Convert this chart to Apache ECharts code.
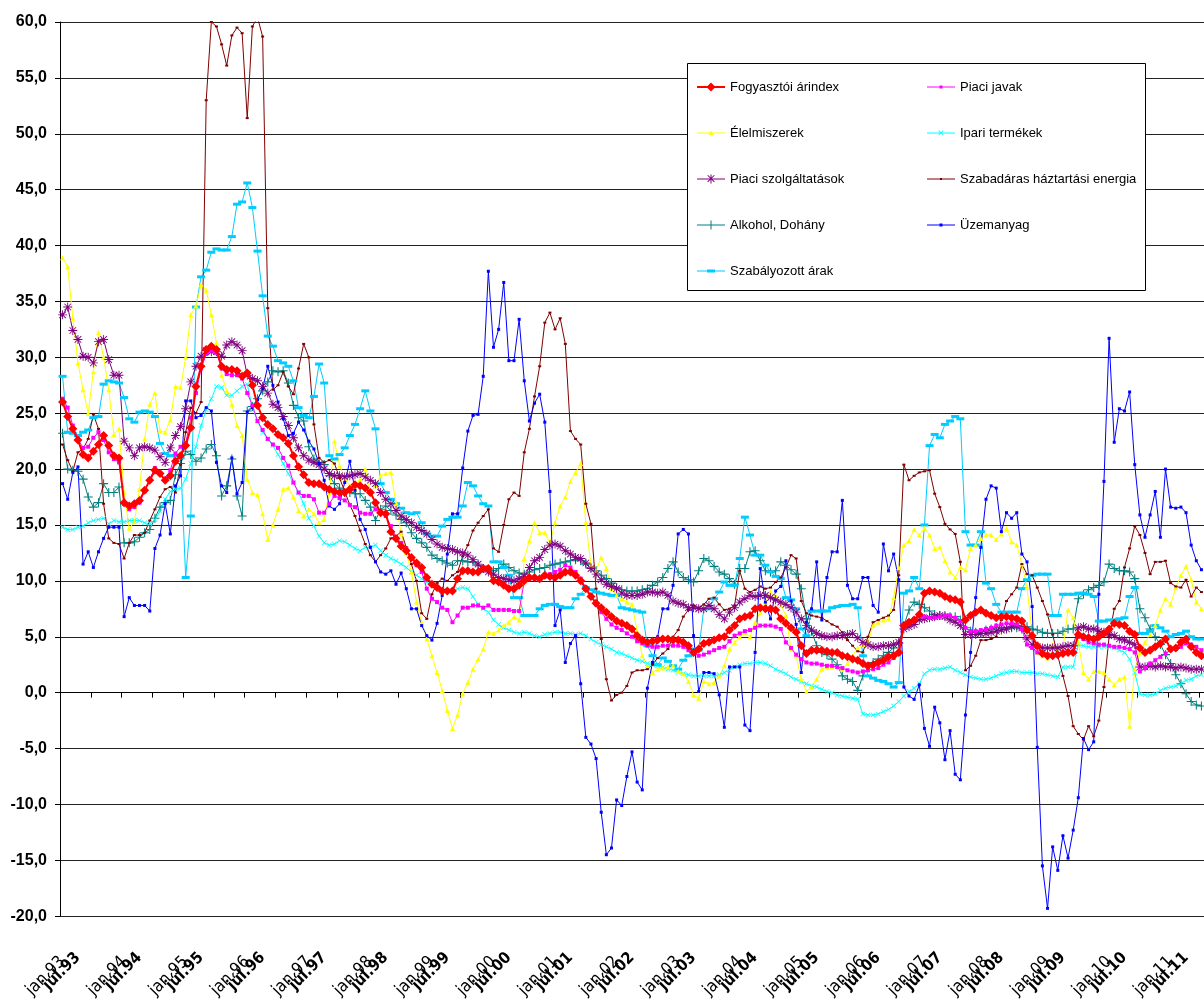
<!DOCTYPE html>
<html>
<head>
<meta charset="utf-8">
<script src="https://cdn.jsdelivr.net/npm/echarts@6/dist/echarts.min.js"></script>
<style>
  html, body { margin: 0; padding: 0; background: #fff; }
  #main { width: 1204px; height: 1001px; }
</style>
</head>
<body>
<div id="main"></div>
<script>
// categories: monthly, jan.93 .. júl.11
const years = ['93','94','95','96','97','98','99','00','01','02','03','04','05','06','07','08','09','10','11'];
const monthNames = ['jan','febr','márc','ápr','máj','jún','júl','aug','szept','okt','nov','dec'];
const lastMonthIndex = 6; // data runs to júl.11

// one row per year, jan..dec
const fogyasztoiArindex = [
  26.0, 24.7, 23.6, 22.6, 21.3, 21.0, 21.6, 22.2, 23.0, 22.1, 21.2, 21.0,
  17.0, 16.7, 16.9, 17.2, 18.1, 19.0, 19.9, 19.6, 19.0, 19.4, 20.7, 21.2,
  22.1, 23.7, 27.4, 29.2, 30.7, 31.0, 30.7, 29.2, 28.9, 28.9, 28.8, 28.3,
  28.6, 27.5, 25.7, 24.6, 24.0, 23.6, 23.1, 22.8, 22.3, 21.2, 20.2, 19.5,
  18.8, 18.7, 18.7, 18.4, 18.2, 18.0, 17.9, 17.9, 18.2, 18.6, 18.5, 18.3,
  17.9, 17.0, 16.1, 16.0, 14.4, 13.8, 13.1, 12.7, 12.1, 11.6, 11.2, 10.3,
  9.7, 9.4, 9.1, 9.1, 9.1, 10.2, 10.9, 10.9, 10.8, 10.8, 11.1, 11.1,
  10.0, 9.9, 9.6, 9.3, 9.3, 9.6, 10.0, 10.3, 10.3, 10.2, 10.5, 10.4,
  10.3, 10.5, 10.8, 10.8, 10.5, 10.0, 9.3, 8.6, 8.0, 7.6, 7.2, 6.8,
  6.4, 6.2, 6.0, 5.7, 5.1, 4.7, 4.5, 4.6, 4.7, 4.8, 4.8, 4.7,
  4.7, 4.5, 4.2, 3.6, 3.9, 4.4, 4.5, 4.7, 4.9, 5.0, 5.6, 6.0,
  6.6, 6.8, 6.9, 7.5, 7.6, 7.5, 7.5, 7.4, 6.6, 6.2, 5.8, 5.4,
  4.2, 3.5, 3.8, 3.8, 3.8, 3.7, 3.6, 3.6, 3.3, 3.2, 3.0, 2.9,
  2.6, 2.4, 2.5, 2.7, 2.9, 3.2, 3.3, 3.6, 6.0, 6.3, 6.5, 7.0,
  8.9, 9.1, 9.0, 8.9, 8.6, 8.4, 8.3, 8.1, 6.5, 6.9, 7.2, 7.4,
  7.1, 6.9, 6.7, 6.8, 6.8, 6.7, 6.6, 6.4, 5.6, 5.1, 4.2, 3.5,
  3.3, 3.3, 3.4, 3.5, 3.6, 3.6, 5.2, 5.0, 4.9, 4.8, 5.0, 5.3,
  5.7, 6.2, 6.1, 6.0, 5.5, 5.2, 4.0, 3.6, 3.8, 4.1, 4.4, 4.8,
  3.9, 4.0, 4.5, 4.8, 4.1, 3.6, 3.3
];
const piaciJavak = [
  26.3, 25.5, 23.9, 22.7, 21.9, 22.0, 22.8, 23.3, 22.6, 21.5, 20.9, 20.6,
  16.9, 16.4, 16.6, 17.0, 18.0, 19.1, 20.1, 19.6, 19.1, 19.9, 21.4, 22.0,
  22.3, 24.6, 26.8, 29.0, 30.3, 30.6, 30.4, 29.0, 28.5, 28.4, 28.4, 28.1,
  26.8, 25.7, 24.3, 23.5, 22.7, 22.2, 21.9, 21.0, 20.3, 18.8, 17.9, 17.6,
  17.6, 17.3, 16.1, 16.1, 16.9, 17.6, 17.4, 17.2, 16.8, 16.6, 16.1, 16.0,
  16.0, 16.4, 16.1, 15.8, 14.9, 13.9, 13.4, 12.9, 12.0, 11.4, 10.8, 9.3,
  8.4, 8.1, 7.6, 7.4, 6.3, 6.9, 7.6, 7.6, 7.8, 7.8, 7.6, 7.8,
  7.4, 7.4, 7.4, 7.4, 7.3, 7.3, 10.0, 10.2, 10.2, 10.1, 10.4, 10.6,
  10.8, 11.0, 11.4, 11.2, 10.8, 10.2, 9.4, 8.7, 7.9, 7.2, 6.6, 6.1,
  5.8, 5.6, 5.3, 5.0, 4.6, 4.4, 4.2, 4.1, 4.1, 4.2, 4.2, 4.2,
  4.2, 4.1, 3.8, 3.6, 3.3, 3.4, 3.6, 3.8, 4.0, 4.1, 4.6, 5.1,
  5.3, 5.5, 5.6, 5.8, 6.0, 6.0, 6.0, 5.9, 5.7, 4.5, 4.0, 3.4,
  3.0, 2.7, 2.6, 2.6, 2.5, 2.4, 2.4, 2.3, 2.2, 2.0, 1.9, 1.8,
  1.9, 2.0, 2.1, 2.2, 2.5, 2.7, 3.1, 3.5, 6.0, 6.4, 6.6, 6.9,
  6.8, 6.7, 6.7, 6.8, 6.9, 6.9, 6.7, 6.4, 5.8, 5.5, 5.5, 5.6,
  5.7, 5.8, 6.0, 6.1, 6.2, 6.2, 6.1, 5.7, 4.3, 4.0, 3.6, 3.5,
  3.4, 3.3, 3.4, 3.6, 3.7, 3.7, 5.0, 4.8, 4.5, 4.4, 4.3, 4.3,
  4.2, 4.1, 4.1, 4.0, 3.9, 3.6, 1.9, 2.2, 2.6, 2.9, 3.2, 3.5,
  3.8, 3.9, 4.1, 4.4, 4.3, 4.1, 3.8
];
const elelmiszerek = [
  38.9, 38.1, 33.5, 29.5, 27.1, 25.0, 28.7, 32.2, 30.0, 27.1, 23.1, 23.6,
  17.9, 14.7, 15.3, 18.2, 22.7, 25.8, 26.8, 23.4, 23.3, 24.4, 27.4, 27.3,
  30.0, 33.8, 34.6, 36.5, 36.0, 33.8, 31.3, 28.4, 27.0, 25.8, 23.9, 23.0,
  19.1, 17.9, 17.7, 16.0, 13.7, 15.0, 16.4, 18.2, 18.3, 17.5, 16.3, 15.8,
  16.4, 16.0, 15.2, 15.5, 17.9, 22.5, 20.3, 19.2, 18.5, 18.2, 19.1, 20.0,
  17.9, 18.5, 19.4, 19.6, 19.7, 17.0, 14.2, 12.5, 10.8, 8.1, 6.3, 4.8,
  3.3, 1.8, 0.2, -1.6, -3.2, -2.0, -0.1, 0.9, 2.1, 3.0, 3.9, 5.4,
  5.3, 5.6, 6.0, 6.3, 6.8, 6.5, 12.0, 13.6, 15.2, 14.3, 14.3, 13.4,
  15.2, 16.7, 17.5, 18.9, 19.7, 20.5, 15.2, 11.4, 10.9, 12.1, 11.1, 9.3,
  8.7, 8.4, 8.1, 7.9, 5.5, 3.3, 2.4, 1.8, 2.1, 2.2, 2.3, 2.4,
  1.9, 1.7, 1.0, -0.2, -0.5, 1.0, 0.8, 0.9, 1.5, 2.4, 3.9, 4.5,
  5.0, 5.4, 5.0, 6.3, 7.2, 8.1, 9.0, 8.7, 7.8, 6.9, 3.9, 3.3,
  1.2, 0.1, 0.5, 1.2, 2.1, 2.3, 2.3, 2.3, 2.1, 2.6, 3.3, 4.0,
  4.3, 4.5, 6.0, 6.3, 6.5, 6.6, 8.5, 11.2, 13.2, 13.6, 14.6, 14.1,
  14.7, 14.1, 12.9, 13.0, 11.8, 10.8, 10.3, 11.2, 11.0, 12.9, 13.2, 13.8,
  14.1, 14.1, 13.7, 14.2, 14.7, 13.5, 13.2, 11.5, 9.4, 5.3, 3.6, 3.3,
  3.1, 4.3, 4.0, 4.0, 7.4, 6.7, 4.5, 1.8, 1.2, 1.9, 1.9, 1.8,
  1.2, 0.7, 1.2, 1.4, -3.0, 2.1, 3.6, 4.5, 5.2, 6.0, 7.4, 8.4,
  7.9, 9.4, 10.5, 11.3, 10.1, 8.1, 7.5
];
const ipariTermekek = [
  14.8, 14.6, 14.6, 14.8, 14.9, 15.2, 15.4, 15.5, 15.6, 15.1, 15.4, 15.3,
  15.3, 15.4, 15.4, 15.4, 15.2, 15.1, 15.5, 16.2, 17.3, 18.0, 18.2, 18.3,
  19.1, 20.5, 22.0, 23.9, 25.3, 26.3, 27.4, 27.3, 26.6, 26.6, 27.0, 27.4,
  27.6, 25.5, 24.3, 23.3, 22.7, 22.1, 21.3, 20.5, 19.6, 18.8, 17.9, 16.9,
  15.6, 14.9, 14.0, 13.4, 13.2, 13.3, 13.6, 13.5, 13.2, 12.9, 12.7, 13.0,
  13.0, 13.2, 12.7, 12.3, 12.0, 11.8, 11.5, 11.2, 10.8, 10.5, 10.2, 9.9,
  9.7, 9.4, 9.2, 9.1, 9.1, 9.3, 9.4, 9.3, 8.6, 7.9, 7.5, 7.2,
  6.5, 6.1, 5.8, 5.6, 5.4, 5.3, 5.4, 5.3, 5.1, 5.0, 5.2, 5.3,
  5.4, 5.4, 5.3, 5.3, 5.2, 5.3, 5.1, 4.8, 4.5, 4.3, 4.1, 3.9,
  3.6, 3.5, 3.3, 3.1, 2.9, 2.8, 2.6, 2.5, 2.4, 2.3, 2.1, 2.0,
  1.8, 1.7, 1.6, 1.5, 1.5, 1.5, 1.5, 1.5, 1.6, 1.8, 2.0, 2.3,
  2.5, 2.6, 2.6, 2.7, 2.7, 2.6, 2.4, 2.1, 1.9, 1.7, 1.4, 1.2,
  1.0, 0.8, 0.6, 0.5, 0.3, 0.1, 0.0, -0.2, -0.3, -0.4, -0.5, -0.6,
  -1.9, -2.0, -2.0, -1.9, -1.7, -1.5, -1.2, -0.8, -0.3, 0.1, 0.4, 0.8,
  1.7, 2.0, 2.1, 2.1, 2.2, 2.3, 2.0, 1.8, 1.6, 1.4, 1.3, 1.2,
  1.2, 1.3, 1.5, 1.7, 1.8, 1.9, 1.9, 1.8, 1.8, 1.8, 1.7, 1.7,
  1.6, 1.5, 1.4, 2.3, 2.3, 2.3, 4.3, 4.2, 4.1, 4.1, 4.1, 4.1,
  4.1, 4.0, 3.8, 3.6, 3.0, 1.8, -0.1, -0.2, -0.2, -0.1, 0.2, 0.4,
  0.5, 0.6, 0.8, 1.1, 1.2, 1.5, 1.6
];
const piaciSzolgaltatasok = [
  33.8, 34.5, 32.4, 31.6, 30.1, 30.0, 29.5, 31.4, 31.6, 29.8, 28.4, 28.4,
  22.5, 21.9, 21.2, 21.9, 22.0, 21.9, 21.7, 21.1, 20.6, 21.9, 23.0, 23.8,
  25.4, 27.8, 29.2, 30.1, 30.6, 30.5, 30.5, 30.1, 31.1, 31.4, 31.1, 30.6,
  28.4, 28.1, 27.9, 27.4, 26.8, 25.8, 25.5, 24.7, 23.9, 22.8, 21.9, 21.2,
  20.8, 20.6, 20.4, 20.0, 19.6, 19.4, 19.4, 19.3, 19.4, 19.5, 19.6, 19.3,
  19.0, 18.7, 17.9, 17.3, 16.9, 16.3, 15.8, 15.5, 15.2, 14.8, 14.5, 14.2,
  13.7, 13.3, 13.0, 12.9, 12.8, 12.6, 12.5, 12.3, 11.9, 11.5, 11.1, 10.8,
  10.6, 10.3, 10.2, 10.1, 10.0, 10.2, 10.4, 11.2, 11.8, 12.1, 12.8, 13.2,
  13.3, 13.1, 12.7, 12.4, 12.1, 12.0, 11.6, 11.1, 10.6, 10.1, 9.7, 9.5,
  9.3, 8.9, 8.7, 8.7, 8.7, 8.8, 9.0, 9.0, 8.9, 9.0, 8.7, 8.2,
  8.0, 7.9, 7.6, 7.6, 7.5, 7.5, 7.8, 7.5, 7.0, 6.6, 7.2, 7.6,
  8.1, 8.4, 8.7, 8.6, 8.7, 8.7, 8.5, 8.3, 8.1, 7.9, 7.6, 7.2,
  6.6, 6.0, 5.6, 5.3, 5.1, 5.0, 5.0, 5.1, 5.1, 5.2, 5.3, 4.9,
  4.5, 4.3, 4.1, 4.1, 4.2, 4.2, 4.3, 4.5, 5.7, 5.9, 6.1, 6.5,
  6.6, 6.7, 6.8, 6.9, 6.8, 6.5, 6.3, 6.0, 5.2, 5.2, 5.2, 5.3,
  5.3, 5.4, 5.5, 5.6, 5.7, 5.9, 6.0, 5.8, 4.8, 4.3, 4.1, 4.0,
  4.0, 4.0, 4.0, 4.1, 4.2, 4.2, 5.8, 5.9, 5.7, 5.7, 5.5, 5.4,
  5.2, 5.1, 4.8, 4.7, 4.5, 4.3, 2.3, 2.3, 2.4, 2.3, 2.4, 2.3,
  2.3, 2.2, 2.3, 2.2, 2.1, 2.1, 2.1
];
const szabadarasEnergia = [
  22.2, 20.8, 19.8, 21.5, 21.8, 22.7, 24.9, 23.6, 16.9, 13.8, 13.4, 13.3,
  12.0, 13.4, 14.1, 14.1, 14.3, 15.4, 16.4, 17.5, 18.2, 18.4, 17.9, 20.4,
  23.3, 25.5, 25.0, 26.0, 53.0, 60.0, 59.6, 58.0, 56.1, 58.8, 59.5, 59.0,
  51.4, 59.6, 60.4, 58.7, 34.4, 27.1, 27.5, 28.7, 27.4, 26.7, 29.0, 31.2,
  30.0, 24.0, 21.0, 20.6, 20.8, 20.5, 19.2, 18.0, 16.8, 15.8, 14.5, 13.3,
  12.3, 11.7, 12.3, 12.9, 13.8, 14.0, 14.4, 13.0, 11.5, 10.0, 7.1, 6.6,
  8.8, 9.8, 10.2, 10.0, 10.5, 10.8, 12.2, 13.2, 14.5, 15.2, 15.8, 16.4,
  12.9, 12.6, 15.0, 17.3, 17.9, 17.6, 21.5, 23.6, 26.5, 29.2, 33.1, 34.0,
  32.5, 33.5, 31.2, 23.4, 22.7, 22.2, 16.9, 15.1, 9.3, 4.8, 1.2, -0.7,
  -0.2, 0.0, 0.6, 1.8, 2.0, 2.0, 2.1, 2.5, 3.1, 3.5, 3.9, 5.0,
  5.6, 6.8, 7.4, 7.8, 7.6, 7.9, 8.4, 8.5, 7.9, 7.4, 7.5, 7.8,
  10.9, 9.3, 9.0, 9.2, 9.5, 9.3, 9.4, 9.9, 10.3, 11.2, 12.3, 12.0,
  8.2, 7.1, 6.9, 6.8, 6.7, 6.4, 6.1, 5.9, 5.4, 4.7, 4.2, 3.7,
  3.6, 5.0, 6.3, 6.5, 6.7, 6.9, 7.4, 10.5, 20.4, 19.0, 19.4, 19.7,
  19.8, 19.9, 17.8, 16.6, 15.1, 14.6, 14.2, 11.7, 2.0, 2.4, 3.3, 4.7,
  4.7, 4.8, 5.0, 6.5, 8.2, 8.8, 9.4, 11.5, 10.6, 10.5, 9.4, 8.2,
  7.0, 5.2, 3.3, 1.5, -0.3, -3.0, -3.7, -4.2, -3.0, -3.9, -2.5, 0.5,
  5.0, 7.5, 8.2, 11.2, 12.9, 14.9, 14.1, 12.5, 10.6, 11.7, 11.7, 11.8,
  9.8, 9.5, 9.4, 10.1, 8.6, 9.4, 9.0
];
const alkoholDohany = [
  23.2, 20.0, 19.9, 19.8, 19.1, 17.5, 16.6, 17.0, 18.7, 17.9, 17.9, 18.4,
  13.4, 13.4, 13.5, 13.9, 14.3, 14.6, 15.6, 16.6, 17.0, 17.2, 19.5, 20.5,
  21.6, 21.3, 20.7, 21.0, 21.8, 22.2, 21.2, 17.6, 18.5, 20.9, 17.6, 15.8,
  25.2, 25.6, 26.3, 27.0, 27.8, 28.8, 28.7, 28.8, 27.7, 25.7, 24.6, 24.3,
  22.0, 20.9, 20.6, 20.4, 19.4, 18.7, 18.3, 17.9, 17.9, 17.8, 17.8, 17.2,
  16.6, 15.4, 16.4, 16.7, 16.3, 15.9, 15.5, 15.2, 14.3, 13.8, 13.4, 13.0,
  12.3, 12.0, 11.8, 11.6, 11.4, 11.8, 11.8, 11.7, 11.7, 11.4, 11.1, 11.0,
  10.9, 11.1, 11.5, 11.2, 10.9, 10.7, 10.6, 10.8, 11.0, 11.1, 11.2, 11.4,
  11.5, 11.6, 11.7, 11.8, 11.9, 11.8, 11.5, 11.2, 10.9, 10.5, 10.2, 9.8,
  9.4, 9.2, 9.1, 9.1, 9.1, 9.2, 9.3, 9.6, 9.9, 10.3, 11.1, 11.7,
  10.8, 10.3, 10.1, 9.9, 10.9, 12.0, 11.8, 11.3, 10.8, 10.6, 10.2, 9.7,
  11.1, 11.1, 12.6, 12.7, 11.8, 10.9, 10.8, 10.9, 11.7, 11.4, 11.0, 10.6,
  9.3, 6.6, 5.5, 4.2, 3.6, 3.4, 3.0, 2.5, 1.5, 1.2, 1.0, 0.2,
  1.5, 2.3, 2.7, 3.0, 3.3, 3.6, 4.0, 4.4, 6.0, 7.4, 8.1, 7.9,
  7.6, 7.3, 7.0, 6.9, 6.9, 6.8, 6.8, 6.5, 5.8, 5.5, 5.4, 5.3,
  5.6, 5.7, 5.8, 5.8, 5.8, 5.8, 5.8, 5.7, 5.9, 5.7, 5.6, 5.4,
  5.3, 5.3, 5.3, 5.5, 5.7, 5.7, 8.4, 8.8, 9.2, 9.4, 9.6, 9.9,
  11.5, 11.1, 10.9, 10.9, 10.8, 10.2, 7.5, 6.7, 5.7, 5.0, 4.3, 3.4,
  2.6, 1.6, 0.8, -0.1, -0.8, -1.1, -1.2
];
const uzemanyag = [
  18.7, 17.3, 19.7, 20.2, 11.5, 12.6, 11.2, 12.6, 13.8, 14.8, 14.8, 14.8,
  6.8, 8.5, 7.8, 7.8, 7.8, 7.3, 12.9, 14.1, 16.9, 14.2, 18.5, 19.4,
  26.1, 26.1, 24.6, 24.8, 25.5, 25.2, 20.6, 18.5, 17.9, 21.0, 17.8, 18.8,
  25.1, 25.5, 26.2, 27.2, 29.2, 27.5, 26.0, 24.5, 23.0, 23.2, 24.2, 23.5,
  22.5, 21.8, 20.5, 19.0, 16.7, 16.4, 16.9, 18.8, 20.7, 18.1, 15.5, 14.6,
  13.0, 11.7, 10.8, 10.6, 10.9, 9.7, 10.7, 9.3, 7.5, 7.5, 6.0, 5.1,
  4.7, 6.2, 8.7, 12.4, 16.0, 16.0, 20.1, 23.4, 24.8, 24.9, 28.3, 37.7,
  30.9, 32.5, 36.7, 29.7, 29.7, 33.4, 27.9, 24.3, 25.9, 26.7, 24.2, 18.0,
  6.0, 7.4, 2.7, 4.4, 5.1, 0.8, -4.0, -4.6, -5.9, -10.7, -14.5, -13.9,
  -9.6, -10.1, -7.5, -5.3, -8.0, -8.7, 0.4, 2.7, 5.0, 7.5, 7.5, 9.6,
  14.2, 14.6, 14.2, 5.1, 0.1, 1.8, 1.8, 1.7, -0.2, -3.1, 2.3, 2.3,
  2.3, -2.9, -3.4, 3.6, 11.1, 8.1, 6.6, 9.1, 9.5, 11.8, 8.2, 6.1,
  1.8, 6.3, 7.5, 11.7, 6.5, 10.3, 12.6, 12.6, 17.2, 9.6, 8.4, 8.4,
  10.3, 10.3, 7.8, 7.2, 13.3, 10.9, 12.4, 10.1, 0.5, -0.3, -0.6, 0.7,
  -3.2, -4.8, -1.3, -2.7, -6.0, -3.4, -7.3, -7.8, -2.0, 3.6, 8.5, 13.0,
  17.3, 18.5, 18.3, 14.4, 16.1, 15.6, 16.1, 12.4, 11.7, 7.7, -4.9, -15.5,
  -19.3, -13.8, -15.9, -12.8, -14.8, -12.3, -9.4, -4.1, -5.1, -4.4, 8.8, 18.9,
  31.7, 22.4, 25.4, 25.2, 26.9, 20.4, 15.9, 13.9, 15.9, 18.0, 13.9, 20.0,
  16.6, 16.5, 16.6, 16.1, 13.2, 11.8, 11.0
];
const szabalyozottArak = [
  28.3, 23.3, 23.2, 23.0, 23.3, 23.5, 24.6, 24.7, 27.6, 27.9, 27.8, 27.7,
  26.4, 24.5, 24.2, 25.1, 25.2, 25.1, 24.7, 22.3, 21.4, 21.2, 21.2, 21.0,
  10.3, 15.8, 34.5, 37.2, 37.8, 39.4, 39.7, 39.6, 39.6, 40.8, 43.7, 43.9,
  45.6, 43.4, 39.5, 35.5, 31.9, 31.0, 29.7, 29.5, 29.2, 27.9, 25.5, 24.8,
  24.6, 26.5, 29.4, 27.7, 21.2, 20.9, 21.3, 21.9, 23.0, 24.0, 25.4, 27.0,
  25.2, 23.6, 18.7, 17.9, 17.3, 16.9, 16.5, 16.1, 16.0, 16.1, 15.2, 14.2,
  14.0, 14.0, 14.9, 15.5, 15.7, 15.7, 16.7, 18.8, 18.5, 17.6, 16.9, 16.7,
  11.7, 11.7, 11.2, 10.5, 8.5, 8.5, 6.9, 6.9, 6.9, 7.5, 7.8, 7.9,
  7.9, 7.7, 7.6, 7.6, 8.4, 8.8, 9.4, 9.2, 9.0, 8.9, 8.8, 8.7,
  8.7, 7.6, 7.5, 7.4, 7.3, 7.2, 4.2, 3.3, 2.5, 3.1, 2.8, 2.4,
  2.1, 2.9, 3.3, 3.9, 3.8, 7.5, 7.5, 8.4, 9.0, 9.9, 9.6, 9.6,
  12.0, 15.7, 14.1, 12.3, 12.3, 11.4, 10.8, 10.4, 10.2, 8.5, 8.3, 7.5,
  5.7, 5.1, 7.3, 7.3, 7.3, 7.3, 7.6, 7.7, 7.8, 7.8, 7.9, 7.6,
  3.3, 1.5, 1.3, 1.1, 1.0, 0.8, 0.5, 0.9, 8.9, 9.1, 10.3, 9.3,
  15.0, 22.1, 23.1, 22.8, 24.0, 24.3, 24.7, 24.5, 14.4, 13.2, 13.2, 14.4,
  9.8, 9.3, 7.9, 7.2, 7.2, 7.2, 7.2, 9.3, 10.1, 10.5, 10.6, 10.6,
  10.6, 6.9, 6.9, 8.8, 8.8, 8.8, 8.9, 8.9, 8.8, 8.6, 6.4, 6.4,
  6.5, 6.5, 6.6, 6.7, 8.6, 9.4, 5.3, 5.3, 5.5, 6.0, 5.8, 5.5,
  5.0, 5.2, 5.3, 5.5, 5.0, 4.8, 4.8
];

const categories = [];
years.forEach((yy, y) => {
  monthNames.forEach((m, i) => {
    if (y === years.length - 1 && i > lastMonthIndex) return;
    categories.push(m + '.' + yy);
  });
});

// tick labels: the reference prints each year's "jan" and "júl" label close together
const janLabels = categories.map((c, i) => (i % 12 === 0 ? 'jan.' + years[i / 12] : ''));
const julLabels = categories.map((c, i) => (i % 12 === 3 ? 'júl.' + years[(i - 3) / 12] : ''));

// chart markers
const plusPath = 'path://M4.4,0H5.6V4.4H10V5.6H5.6V10H4.4V5.6H0V4.4H4.4Z';
const crossPath = 'path://M1,1.8L1.8,1L9,8.2L8.2,9Z M8.2,1L9,1.8L1.8,9L1,8.2Z';
const starPath = 'path://M4.5,0H5.5V10H4.5Z M0,4.5H10V5.5H0Z M1,1.7L1.7,1L9,8.3L8.3,9Z M8.3,1L9,1.7L1.7,9L1,8.3Z';

// legend icons (28x14 box: short line with the series marker in the middle)
const box = 'M0,0h0.01v0.01h-0.01Z M27.99,13.99h0.01v0.01h-0.01Z ';
const thin = 'M0,6.5H28V7.5H0Z ';
const icons = {
  'Fogyasztói árindex': 'path://' + box + 'M0,6H28V8H0Z M14,2.5L18.5,7L14,11.5L9.5,7Z',
  'Piaci javak': 'path://' + box + thin + 'M12.5,5.5H15.5V8.5H12.5Z',
  'Élelmiszerek': 'path://' + box + thin + 'M14,4.5L16.5,9H11.5Z',
  'Ipari termékek': 'path://' + box + thin + 'M11.5,4.9L12.1,4.3L16.5,8.7L15.9,9.3Z M15.9,4.3L16.5,4.9L12.1,9.3L11.5,8.7Z',
  'Piaci szolgáltatások': 'path://' + box + thin + 'M13.5,2.5H14.5V11.5H13.5Z M9.5,6.5H18.5V7.5H9.5Z M10.3,3.6L11,2.9L17.7,9.6L17,10.3Z M17,2.9L17.7,3.6L11,10.3L10.3,9.6Z',
  'Szabadáras háztartási energia': 'path://' + box + thin + 'M13,6H15V8H13Z',
  'Alkohol, Dohány': 'path://' + box + thin + 'M13.5,2.5H14.5V11.5H13.5Z M9.5,6.5H18.5V7.5H9.5Z',
  'Üzemanyag': 'path://' + box + thin + 'M12.5,5.5H15.5V8.5H12.5Z',
  'Szabályozott árak': 'path://' + box + thin + 'M10,5.5H18V8.5H10Z'
};
const legendItems = (names) => names.map((n) => ({ name: n, icon: icons[n] }));

const chart = echarts.init(document.getElementById('main'), null, { renderer: 'canvas' });

function line(name, data, color, symbol, size, width, z) {
  return {
    name: name,
    type: 'line',
    data: data,
    z: z,
    color: color,
    symbol: symbol,
    symbolSize: size,
    showSymbol: true,
    showAllSymbol: true,
    lineStyle: { color: color, width: width },
    itemStyle: { color: color, borderWidth: 0 },
    emphasis: { disabled: true },
    animation: false
  };
}

const font = 'Liberation Sans, Arial, sans-serif';
const narrow = "'Liberation Sans Narrow', 'Arial Narrow', 'DejaVu Sans Condensed', 'Liberation Sans', sans-serif";

const option = {
  animation: false,
  backgroundColor: '#fff',
  grid: { left: 60, top: 22, right: -5, bottom: 83, containLabel: false },
  graphic: [{
    type: 'rect',
    z: 10,
    shape: { x: 687.5, y: 63.5, width: 458, height: 227 },
    style: { fill: '#fff', stroke: '#000', lineWidth: 1 }
  }],
  legend: [
    {
      z: 12, orient: 'vertical', left: 692, top: 75, itemWidth: 28, itemHeight: 14, itemGap: 32,
      textStyle: { fontFamily: font, fontSize: 13, color: '#000' },
      data: legendItems(['Fogyasztói árindex', 'Élelmiszerek', 'Piaci szolgáltatások', 'Alkohol, Dohány', 'Szabályozott árak'])
    },
    {
      z: 12, orient: 'vertical', left: 922, top: 75, itemWidth: 28, itemHeight: 14, itemGap: 32,
      textStyle: { fontFamily: font, fontSize: 13, color: '#000' },
      data: legendItems(['Piaci javak', 'Ipari termékek', 'Szabadáras háztartási energia', 'Üzemanyag'])
    }
  ],
  xAxis: [
    {
      type: 'category', data: categories, boundaryGap: true,
      axisLine: { onZero: true, lineStyle: { color: '#000', width: 1 } },
      axisTick: { show: true, interval: 5, length: 5, lineStyle: { color: '#000' } },
      axisLabel: { show: false },
      splitLine: { show: false }
    },
    {
      type: 'category', data: janLabels, boundaryGap: true, position: 'bottom',
      axisLine: { show: false, onZero: false }, axisTick: { show: false }, splitLine: { show: false },
      axisLabel: {
        interval: (i) => i % 12 === 0, rotate: 45, margin: 43,
        fontFamily: narrow, fontSize: 17, color: '#000'
      }
    },
    {
      type: 'category', data: julLabels, boundaryGap: true, position: 'bottom',
      axisLine: { show: false, onZero: false }, axisTick: { show: false }, splitLine: { show: false },
      axisLabel: {
        interval: (i) => i % 12 === 3, rotate: 45, margin: 39,
        fontFamily: narrow, fontSize: 16, fontWeight: 'bold', color: '#000'
      }
    }
  ],
  yAxis: {
    type: 'value', min: -20, max: 60, interval: 5,
    axisLine: { show: true, lineStyle: { color: '#000' } },
    axisTick: { show: true, length: 5, lineStyle: { color: '#000' } },
    splitLine: { show: true, lineStyle: { color: '#222', width: 1 } },
    axisLabel: {
      margin: 13, fontFamily: font, fontSize: 16, fontWeight: 'bold', color: '#000',
      formatter: (v) => v.toFixed(1).replace('.', ',')
    }
  },
  series: [
    line('Alkohol, Dohány', alkoholDohany, '#008080', plusPath, 9, 1, 2),
    line('Szabályozott árak', szabalyozottArak, '#00CCFF', 'rect', [8, 3], 1, 2),
    line('Ipari termékek', ipariTermekek, '#00FFFF', crossPath, 5, 1, 2),
    line('Élelmiszerek', elelmiszerek, '#FFFF00', 'triangle', 5, 1, 2),
    line('Szabadáras háztartási energia', szabadarasEnergia, '#800000', 'rect', [3, 2], 1, 2),
    line('Piaci szolgáltatások', piaciSzolgaltatasok, '#800080', starPath, 9, 1, 2),
    line('Üzemanyag', uzemanyag, '#0000FF', 'rect', 3, 1, 2),
    line('Piaci javak', piaciJavak, '#FF00FF', 'rect', 4, 1, 3),
    line('Fogyasztói árindex', fogyasztoiArindex, '#FF0000', 'diamond', 9, 2, 4)
  ]
};

chart.setOption(option);
</script>
</body>
</html>
